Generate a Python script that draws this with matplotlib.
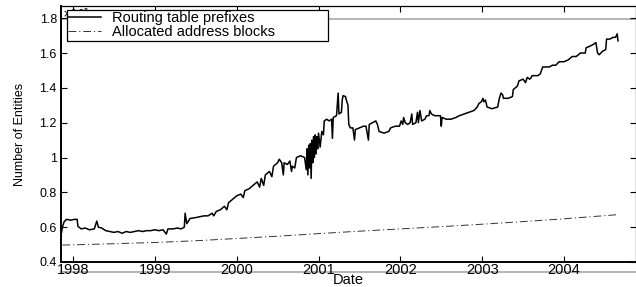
"""plot.py

Growth of routing table prefixes vs. allocated address blocks (x 10^5),
MATLAB-style line plot with a boxed legend.
"""

import matplotlib
matplotlib.use("Agg")
import matplotlib.pyplot as plt
from matplotlib.ticker import FuncFormatter

OUT_PNG = "out.png"

# ----------------------------------------------------------------------
# Data (units of 10^5 entities)
# ----------------------------------------------------------------------

route_year = [
    1997.86, 1997.87, 1997.89, 1997.92, 1997.97, 1998.02, 1998.05, 1998.06,
    1998.10, 1998.15, 1998.20, 1998.26, 1998.29, 1998.31, 1998.35, 1998.40,
    1998.45, 1998.50, 1998.55, 1998.60, 1998.65, 1998.70, 1998.75, 1998.80,
    1998.85, 1998.90, 1998.95, 1999.00, 1999.05, 1999.10, 1999.14, 1999.16,
    1999.22, 1999.28, 1999.32, 1999.36, 1999.37, 1999.39, 1999.43, 1999.50,
    1999.55, 1999.60, 1999.65, 1999.70, 1999.72, 1999.75, 1999.80, 1999.85,
    1999.88, 1999.90, 1999.95, 2000.00, 2000.05, 2000.08, 2000.10, 2000.15,
    2000.20, 2000.25, 2000.28, 2000.30, 2000.33, 2000.35, 2000.40, 2000.43,
    2000.45, 2000.50,
    2000.52, 2000.55, 2000.57, 2000.58, 2000.62, 2000.65, 2000.67, 2000.68,
    2000.71, 2000.73, 2000.78, 2000.83, 2000.85, 2000.86, 2000.87, 2000.88,
    2000.89, 2000.90, 2000.91, 2000.92, 2000.93, 2000.94, 2000.95, 2000.96,
    2000.97, 2000.98, 2000.99, 2001.00, 2001.02, 2001.04, 2001.06, 2001.07,
    2001.10, 2001.13, 2001.16, 2001.17, 2001.18, 2001.22, 2001.24, 2001.25,
    2001.28, 2001.29, 2001.30, 2001.33, 2001.34, 2001.36, 2001.37, 2001.39,
    2001.42, 2001.44, 2001.45, 2001.50, 2001.55, 2001.58, 2001.61, 2001.62,
    2001.66, 2001.70, 2001.72, 2001.74, 2001.80, 2001.86, 2001.88, 2001.94,
    2001.99, 2002.01, 2002.03, 2002.04, 2002.06, 2002.09, 2002.12, 2002.14,
    2002.15, 2002.19, 2002.21, 2002.22, 2002.24, 2002.26, 2002.30, 2002.32,
    2002.35, 2002.36, 2002.38, 2002.42, 2002.46, 2002.49, 2002.50, 2002.51,
    2002.56, 2002.62, 2002.68, 2002.72, 2002.78, 2002.84, 2002.90, 2002.94,
    2002.96, 2002.99, 2003.01, 2003.02, 2003.04, 2003.06, 2003.12, 2003.19,
    2003.21, 2003.23, 2003.25, 2003.26, 2003.32, 2003.37, 2003.38, 2003.43,
    2003.45, 2003.50, 2003.53, 2003.55, 2003.58, 2003.60, 2003.61, 2003.68,
    2003.71, 2003.74, 2003.78, 2003.82, 2003.86, 2003.90, 2003.94, 2004.00,
    2004.05, 2004.10, 2004.15, 2004.20, 2004.26, 2004.27, 2004.32, 2004.36,
    2004.39, 2004.41, 2004.43, 2004.47, 2004.51, 2004.52, 2004.56, 2004.60,
    2004.63, 2004.64, 2004.65, 2004.66,
]
route_val = [
    0.57, 0.60, 0.63, 0.645, 0.64, 0.645, 0.645, 0.605,
    0.59, 0.595, 0.585, 0.59, 0.635, 0.60, 0.595, 0.58,
    0.575, 0.57, 0.575, 0.565, 0.575, 0.57, 0.575, 0.58,
    0.575, 0.58, 0.58, 0.585, 0.58, 0.585, 0.56, 0.59,
    0.59, 0.595, 0.59, 0.60, 0.68, 0.62, 0.65, 0.655,
    0.66, 0.665, 0.665, 0.68, 0.665, 0.69, 0.70, 0.72,
    0.70, 0.74, 0.76, 0.78, 0.79, 0.77, 0.81, 0.82,
    0.84, 0.86, 0.83, 0.88, 0.84, 0.90, 0.92, 0.89,
    0.95, 0.97,
    0.99, 0.97, 0.90, 0.97, 0.96, 0.98, 0.92, 0.95,
    0.94, 1.00, 1.01, 1.00, 0.93, 1.05, 0.90, 1.07,
    0.94, 1.08, 0.88, 1.10, 0.97, 1.12, 1.00, 1.13,
    1.02, 1.12, 1.05, 1.14, 1.06, 1.15, 1.13, 1.21,
    1.22, 1.21, 1.22, 1.11, 1.23, 1.24, 1.37, 1.25,
    1.26, 1.33, 1.355, 1.35, 1.33, 1.30, 1.19, 1.17,
    1.17, 1.10, 1.16, 1.17, 1.18, 1.18, 1.10, 1.19,
    1.20, 1.21, 1.19, 1.15, 1.14, 1.15, 1.17, 1.18,
    1.18, 1.21, 1.19, 1.23, 1.20, 1.19, 1.20, 1.25,
    1.19, 1.20, 1.26, 1.20, 1.27, 1.21, 1.22, 1.24,
    1.24, 1.27, 1.25, 1.24, 1.24, 1.24, 1.18, 1.23,
    1.22, 1.22, 1.23, 1.24, 1.25, 1.26, 1.27, 1.29,
    1.31, 1.32, 1.34, 1.32, 1.33, 1.29, 1.28, 1.29,
    1.34, 1.37, 1.36, 1.34, 1.34, 1.35, 1.39, 1.41,
    1.44, 1.45, 1.43, 1.46, 1.45, 1.46, 1.47, 1.47,
    1.48, 1.52, 1.52, 1.52, 1.53, 1.53, 1.55, 1.55,
    1.56, 1.58, 1.58, 1.60, 1.60, 1.63, 1.64, 1.65,
    1.66, 1.60, 1.59, 1.61, 1.62, 1.68, 1.68, 1.69,
    1.69, 1.70, 1.71, 1.67,
]

alloc_year = [1997.87, 1998.5, 1999.0, 1999.5, 2000.0, 2000.5, 2001.0,
              2001.5, 2002.0, 2002.5, 2003.0, 2003.5, 2004.0, 2004.66]
alloc_val = [0.497, 0.505, 0.512, 0.522, 0.535, 0.548, 0.563,
             0.577, 0.590, 0.603, 0.617, 0.632, 0.648, 0.672]

year_ticks = [1998, 1999, 2000, 2001, 2002, 2003, 2004]
value_ticks = [0.4, 0.6, 0.8, 1.0, 1.2, 1.4, 1.6, 1.8]

series_labels = ["Routing table prefixes", "Allocated address blocks"]

FONT = ["Liberation Sans", "DejaVu Sans"]
NARROW = ["Liberation Sans Narrow", "Liberation Sans", "DejaVu Sans"]


def main() -> None:
    plt.rcParams["font.family"] = FONT

    fig = plt.figure(figsize=(6.36, 2.87), dpi=100)

    # faint offset frame visible in the scanned original
    ghost = fig.add_axes([61 / 636, 15 / 287, 575 / 636, 253 / 287], zorder=0)
    ghost.set_xticks([])
    ghost.set_yticks([])
    ghost.patch.set_visible(False)
    for side in ("left", "right"):
        ghost.spines[side].set_visible(False)
    for side in ("top", "bottom"):
        ghost.spines[side].set_color("#b4b4b4")
        ghost.spines[side].set_linewidth(1.4)

    ax = fig.add_axes([61 / 636, 25 / 287, 575 / 636, 256 / 287], zorder=1)
    ax.patch.set_visible(False)

    ax.plot(route_year, route_val, color="black", lw=1.1,
            label=series_labels[0])
    ax.plot(alloc_year, alloc_val, color="#333333", lw=0.7,
            linestyle=(0, (8, 3, 1.2, 3)), label=series_labels[1])

    ax.set_xlim(1997.853, 2004.88)
    ax.set_ylim(0.4, 1.87)
    ax.set_xticks(year_ticks)
    ax.set_yticks(value_ticks)
    ax.yaxis.set_major_formatter(FuncFormatter(lambda v, _: f"{v:g}"))

    ax.tick_params(direction="in", top=True, right=True, length=4,
                   width=0.8, color="black")
    ax.tick_params(axis="x", labelsize=10.5, pad=1)
    ax.tick_params(axis="y", labelsize=9, pad=3)
    for side in ("left", "bottom"):
        ax.spines[side].set_linewidth(1.4)
    for side in ("top", "right"):
        ax.spines[side].set_linewidth(0.9)

    ax.set_xlabel("Date", fontsize=10.5, labelpad=-3)
    ax.set_ylabel("Number of Entities", fontsize=9, family=NARROW, labelpad=10)

    # exponent label, partly hidden behind the legend like the original
    ax.text(0.002, 1.0, r"$\times10^{5}$", transform=ax.transAxes,
            ha="left", va="top", fontsize=7.5)

    leg = ax.legend(loc="upper left", bbox_to_anchor=(0.0104, 0.985, 0.454, 0.0),
                    mode="expand", borderaxespad=0, fontsize=10.5,
                    labelspacing=0.0, borderpad=0.1, handlelength=2.2,
                    handletextpad=0.8, fancybox=False, framealpha=1)
    leg.get_frame().set_edgecolor("black")
    leg.get_frame().set_linewidth(0.9)
    leg.set_zorder(5)

    fig.savefig(OUT_PNG, dpi=100)
    plt.close(fig)


if __name__ == "__main__":
    main()
